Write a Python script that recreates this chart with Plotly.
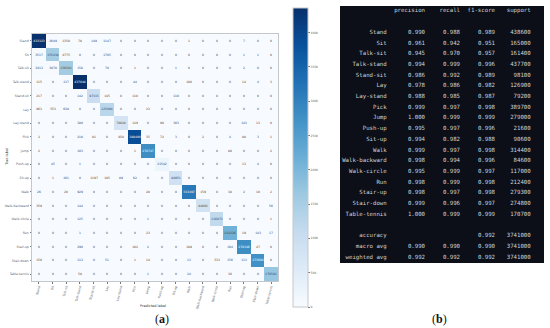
import plotly.graph_objects as go

W, H = 550, 328

classes = ["Stand", "Sit", "Talk-sit", "Talk-stand", "Stand-sit", "Lay", "Lay-stand", "Pick", "Jump",
           "Push-up", "Sit-up", "Walk", "Walk-backward", "Walk-circle", "Run", "Stair-up", "Stair-down",
           "Table-tennis"]

row_stand = [433323, 2649, 1358, 78, 149, 1147, 0, 0, 0, 0, 0, 1, 0, 0, 0, 7, 0, 0]
row_sit = [3517, 155430, 4775, 0, 0, 1705, 0, 0, 0, 0, 0, 0, 0, 0, 0, 1, 1, 0]
row_talk_sit = [3413, 3070, 156583, 158, 0, 70, 0, 1, 0, 0, 1, 0, 0, 0, 0, 2, 0, 0]
row_talk_stand = [115, 0, 137, 437048, 0, 0, 0, 44, 0, 0, 0, 100, 0, 0, 0, 14, 4, 3]
row_stand_sit = [217, 0, 0, 142, 97315, 145, 0, 110, 0, 0, 110, 0, 0, 0, 0, 0, 0, 0]
row_lay = [863, 553, 638, 0, 0, 125094, 0, 0, 23, 0, 0, 0, 0, 0, 0, 0, 0, 0]
row_lay_stand = [0, 0, 0, 380, 0, 0, 78020, 129, 0, 90, 303, 0, 0, 0, 0, 143, 13, 0]
row_pick = [2, 0, 0, 210, 81, 0, 858, 388400, 35, 72, 3, 0, 2, 0, 4, 88, 3, 1]
row_jump = [2, 0, 0, 103, 0, 0, 0, 1, 278747, 0, 0, 0, 0, 0, 80, 0, 0, 2]
row_push_up = [0, 45, 0, 1, 0, 0, 0, 0, 0, 21542, 0, 0, 0, 0, 0, 13, 4, 0]
row_sit_up = [0, 1, 161, 0, 1197, 185, 89, 62, 0, 0, 88951, 0, 0, 0, 0, 0, 0, 0]
row_walk = [26, 0, 20, 929, 0, 0, 0, 0, 28, 0, 0, 313497, 159, 0, 38, 2, 10, 2]
row_walk_backward = [359, 0, 0, 144, 0, 0, 0, 0, 0, 0, 0, 0, 84093, 0, 0, 0, 0, 56]
row_walk_circle = [0, 0, 0, 125, 0, 0, 0, 0, 1, 0, 0, 0, 0, 116873, 0, 0, 0, 1]
row_run = [0, 0, 0, 1, 0, 0, 0, 0, 23, 0, 0, 0, 0, 0, 212226, 19, 143, 17]
row_stair_up = [0, 0, 0, 290, 0, 0, 0, 102, 2, 0, 0, 189, 0, 0, 104, 278346, 47, 0]
row_stair_down = [150, 0, 0, 113, 0, 51, 0, 1, 14, 0, 0, 13, 0, 533, 156, 113, 273664, 0]
row_table_tennis = [0, 0, 0, 58, 0, 0, 0, 0, 1, 0, 0, 24, 0, 0, 30, 0, 0, 170583]

matrix = [row_stand, row_sit, row_talk_sit, row_talk_stand, row_stand_sit, row_lay, row_lay_stand, row_pick,
          row_jump, row_push_up, row_sit_up, row_walk, row_walk_backward, row_walk_circle, row_run,
          row_stair_up, row_stair_down, row_table_tennis]

colorbar_ticks = [0, 50000, 100000, 150000, 200000, 250000, 300000, 350000, 400000]

precision = ["0.990", "0.961", "0.945", "0.994", "0.986", "0.978", "0.988", "0.999", "1.000", "0.995", "0.994",
             "0.999", "0.998", "0.995", "0.998", "0.998", "0.999", "1.000"]
recall = ["0.988", "0.942", "0.970", "0.999", "0.992", "0.986", "0.985", "0.997", "0.999", "0.997", "0.982",
          "0.997", "0.994", "0.999", "0.999", "0.997", "0.996", "0.999"]
f1_score = ["0.989", "0.951", "0.957", "0.996", "0.989", "0.982", "0.987", "0.998", "0.999", "0.996", "0.988",
            "0.998", "0.996", "0.997", "0.998", "0.998", "0.997", "0.999"]
support = ["438600", "165000", "161400", "437700", "98100", "126900", "79200", "389700", "279000", "21600",
           "90600", "314400", "84600", "117000", "212400", "279300", "274800", "170700"]
summary_labels = ["accuracy", "macro avg", "weighted avg"]
summary_precision = ["", "0.990", "0.992"]
summary_recall = ["", "0.990", "0.992"]
summary_f1 = ["0.992", "0.990", "0.992"]
summary_support = ["3741000", "3741000", "3741000"]
headers = ["precision", "recall", "f1-score", "support"]

BLUES = ["#f7fbff", "#deebf7", "#c6dbef", "#9ecae1", "#6baed6", "#4292c6", "#2171b5", "#08519c", "#08306b"]
colorscale = [[i / 8, c] for i, c in enumerate(BLUES)]

INK = "#5a6472"
TABLE_INK = "#d0d4d8"
fig = go.Figure()

fig.add_trace(go.Heatmap(
    z=matrix, x=classes, y=classes, colorscale=colorscale, zmin=0, zmax=436000,
    text=matrix, texttemplate="%{text}", textfont=dict(size=3, family="DejaVu Sans"),
    xgap=0, ygap=0, hoverongaps=False,
    colorbar=dict(
        x=293 / W, xanchor="left", y=1 - 8 / H, yanchor="top", len=299 / H, lenmode="fraction",
        thickness=15, thicknessmode="pixels", xpad=0, ypad=0,
        tickvals=colorbar_ticks, ticks="outside", ticklen=2, tickwidth=0.5, tickcolor="#777777",
        tickfont=dict(size=3, color=INK, family="DejaVu Sans"),
        outlinecolor="#c4c8cc", outlinewidth=1,
    ),
))

# Classification report on its own axes: x in pixels from a column origin, y in text lines
rows = list(range(2, 20))
sum_rows = [21, 22, 23]
col_right = [18.7, 57, 92, 127, 162.7]
columns = [classes + summary_labels,
           precision + summary_precision,
           recall + summary_recall,
           f1_score + summary_f1,
           support + summary_support]
for pos, col in zip(col_right, columns):
    fig.add_trace(go.Scatter(
        x=[pos] * len(col), y=rows + sum_rows, text=col, mode="text", textposition="middle left",
        textfont=dict(family="DejaVu Sans Mono", size=5.7, color=TABLE_INK),
        xaxis="x2", yaxis="y2", showlegend=False, hoverinfo="skip", cliponaxis=False,
    ))
for pos, head in zip(col_right[1:], headers):
    fig.add_trace(go.Scatter(
        x=[pos], y=[0], text=[head], mode="text", textposition="middle left",
        textfont=dict(family="DejaVu Sans Mono", size=5.7, color=TABLE_INK),
        xaxis="x2", yaxis="y2", showlegend=False, hoverinfo="skip", cliponaxis=False,
    ))

caption = dict(xref="paper", yref="paper", showarrow=False, xanchor="center", yanchor="middle")
fig.update_layout(
    width=W, height=H, margin=dict(l=0, r=0, t=0, b=0), paper_bgcolor="white", plot_bgcolor="white",
    font=dict(family="DejaVu Sans", color=INK),
    xaxis=dict(domain=[32 / W, 278 / W], side="bottom", tickangle=-75, tickfont=dict(size=3.2, color=INK),
               ticks="outside", ticklen=1.5, tickwidth=0.5, tickcolor="#777777", showline=True, linecolor="#c4c8cc",
               linewidth=1, mirror=True, showgrid=False, zeroline=False, automargin=False),
    yaxis=dict(domain=[1 - 281 / H, 1 - 34 / H], autorange="reversed", tickfont=dict(size=3.2, color=INK),
               ticks="outside", ticklen=1.5, tickwidth=0.5, tickcolor="#777777", showline=True, linecolor="#c4c8cc",
               linewidth=1, mirror=True, showgrid=False, zeroline=False, automargin=False),
    xaxis2=dict(domain=[340 / W, 544 / W], range=[-28, 176], anchor="y2", visible=False, fixedrange=True),
    yaxis2=dict(domain=[1 - 263 / H, 1 - 6 / H], range=[23.55, -0.467], anchor="x2", visible=False, fixedrange=True),
    shapes=[dict(type="rect", xref="paper", yref="paper", x0=340 / W, x1=544 / W, y0=1 - 263 / H, y1=1 - 6 / H,
                 fillcolor="#0c0f17", line_width=0, layer="below")],
    annotations=[
        dict(text="Predicted label", x=153 / W, y=1 - 306 / H, font=dict(size=3.5, color="#333333"), **caption),
        dict(text="True label", x=7 / W, y=1 - 157 / H, textangle=-90, font=dict(size=3.5, color="#333333"), **caption),
        dict(text="(<b>a</b>)", x=162 / W, y=1 - 319 / H,
             font=dict(size=12, color="#111111", family="Liberation Serif"), **caption),
        dict(text="(<b>b</b>)", x=439 / W, y=1 - 319 / H,
             font=dict(size=12, color="#111111", family="Liberation Serif"), **caption),
    ],
)

fig.write_html("out.html", post_script="document.body.style.margin='0';", config={"displayModeBar": False})
